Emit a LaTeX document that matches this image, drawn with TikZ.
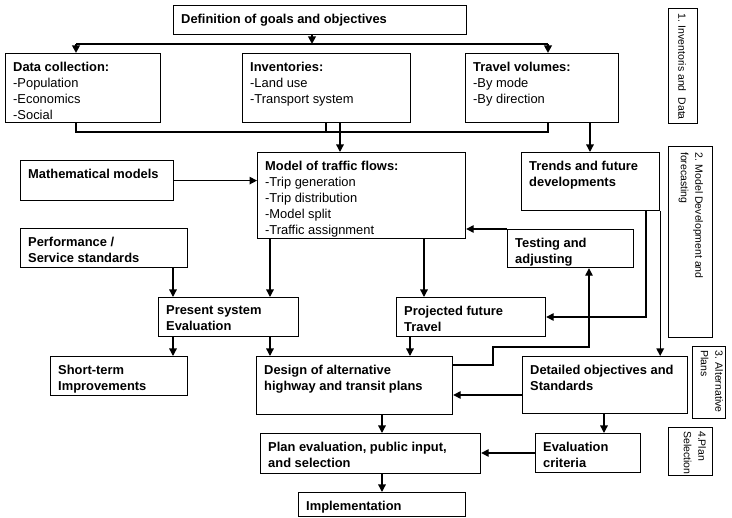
\documentclass[tikz,border=0pt]{standalone}
\usepackage{fontspec}
\setmainfont{Liberation Sans}
\usetikzlibrary{arrows.meta,calc}

% text placed in the top-left corner of a box
\newcommand{\inbox}[3][txt]{\node[#1] (#2-t) at ($(#2.north west)+(8,8.5)$) {#3};}
% rotated caption in a side box (reads top to bottom)
\newcommand{\sidecap}[4]{\node[side] (#1-t) at ($(#1.north east)+(#2,#3)$) {#4};}

\begin{document}
\begin{tikzpicture}[x=1pt,y=-1pt,
  box/.style={draw, line width=1.2pt, inner sep=0pt, anchor=north west},
  txt/.style={anchor=north west, inner sep=0pt, align=left,
    font=\fontsize{12.9}{16}\selectfont},
  txtb/.style={txt, font=\fontsize{12.9}{16}\selectfont\bfseries},
  side/.style={anchor=north west, inner sep=0pt, align=left, rotate=-90,
    font=\fontsize{10.5}{14.5}\selectfont},
  link/.style={line width=1.3pt, -{Triangle[length=7.5pt,width=7.5pt]}},
  wire/.style={line width=1.3pt},
  bus/.style={line width=2.2pt},
  bustip/.style={bus, -{Triangle[length=7.5pt,width=7.5pt]}},
]
\useasboundingbox (0,0) rectangle (732,518);

% ---- boxes ----
\node[box, minimum width=293, minimum height=29] (def)    at (173,5)   {};
\node[box, minimum width=155, minimum height=69] (dc)     at (5,53)    {};
\node[box, minimum width=168, minimum height=69] (inv)    at (242,53)  {};
\node[box, minimum width=153, minimum height=69] (tv)     at (465,53)  {};
\node[box, minimum width=29,  minimum height=115] (lab1)  at (668,8)   {};
\node[box, minimum width=153, minimum height=40] (math)   at (20,160)  {};
\node[box, minimum width=208, minimum height=86] (model)  at (257,152) {};
\node[box, minimum width=138, minimum height=58] (trends) at (521,152) {};
\node[box, minimum width=44,  minimum height=191] (lab2)  at (668,146) {};
\node[box, minimum width=167, minimum height=39] (perf)   at (20,228)  {};
\node[box, minimum width=126, minimum height=38] (test)   at (507,229) {};
\node[box, minimum width=140, minimum height=39] (pres)   at (158,297) {};
\node[box, minimum width=149, minimum height=39] (proj)   at (396,297) {};
\node[box, minimum width=137, minimum height=39] (short)  at (50,356)  {};
\node[box, minimum width=196, minimum height=58] (design) at (256,356) {};
\node[box, minimum width=165, minimum height=57] (detail) at (522,356) {};
\node[box, minimum width=33,  minimum height=72] (lab3)   at (692,346) {};
\node[box, minimum width=220, minimum height=40] (plan)   at (260,433) {};
\node[box, minimum width=105, minimum height=39] (evalc)  at (535,433) {};
\node[box, minimum width=44,  minimum height=48] (lab4)   at (668,427) {};
\node[box, minimum width=167, minimum height=24] (impl)   at (298,492) {};

% ---- box texts ----
\inbox[txtb]{def}{Definition of goals and objectives}
\inbox{dc}{\textbf{Data collection:}\\-Population\\-Economics\\-Social}
\inbox{inv}{\textbf{Inventories:}\\-Land use\\-Transport system}
\inbox{tv}{\textbf{Travel volumes:}\\-By mode\\-By direction}
\inbox[txtb]{math}{Mathematical models}
\inbox{model}{\textbf{Model of traffic flows:}\\-Trip generation\\-Trip distribution\\-Model split\\-Traffic assignment}
\inbox[txtb]{trends}{Trends and future\\developments}
\inbox[txtb]{perf}{Performance /\\Service standards}
\inbox[txtb]{test}{Testing and\\adjusting}
\inbox[txtb]{pres}{Present system\\Evaluation}
\inbox[txtb]{proj}{Projected future\\Travel}
\inbox[txtb]{short}{Short-term\\Improvements}
\inbox[txtb]{design}{Design of alternative\\highway and transit plans}
\inbox[txtb]{detail}{Detailed objectives and\\Standards}
\inbox[txtb]{plan}{Plan evaluation, public input,\\and selection}
\inbox[txtb]{evalc}{Evaluation\\criteria}
\inbox[txtb]{impl}{Implementation}

% ---- stage captions ----
\sidecap{lab1}{-12}{5}{1. Inventoris and\ \ Data}
\sidecap{lab2}{-10}{6}{2. Model Development and\\forecasting}
\sidecap{lab3}{-3}{4}{3. Alternative\\Plans}
\sidecap{lab4}{-7}{4}{4.Plan\\Selection}

% ---- routing points ----
\coordinate (busL) at (76,44);
\coordinate (busM) at (312,44);
\coordinate (busR) at (548,44);
\coordinate (colL) at (76,132);
\coordinate (colI) at (326,132);
\coordinate (colR) at (548,132);
\coordinate (xInv) at (340,0);
\coordinate (xTv)  at (590,0);
\coordinate (xA)   at (173,0);
\coordinate (xB)   at (270,0);
\coordinate (xC)   at (424,0);
\coordinate (xD)   at (410,0);
\coordinate (xE)   at (382,0);
\coordinate (xF)   at (604,0);
\coordinate (trA)  at (646,317);
\coordinate (fbA)  at (493,365);
\coordinate (fbB)  at (493,347);
\coordinate (fbC)  at (589,347);
\coordinate (yDet) at (0,395);
\coordinate (yEv)  at (0,453);

% ---- distribution from the goals ----
\draw[bus] (busL) -- (busR);
\draw[bustip] (def.south -| busM) -- (busM);
\draw[bustip] (busL) -- (busL |- dc.north);
\draw[bustip] (busR) -- (busR |- tv.north);

% ---- collection into the model ----
\draw[bus] (colL |- dc.south) -- (colL) -- (colR) -- (colR |- tv.south);
\draw[bus] (colI |- inv.south) -- (colI);
\draw[link] (xInv |- inv.south) -- (xInv |- model.north);
\draw[link] (xTv |- tv.south) -- (xTv |- trends.north);

% ---- modelling stage ----
\draw[link] (math.east) -- (math.east -| model.west);
\draw[link] (test.north west) -- (test.north west -| model.east);
\draw[link] (xB |- model.south) -- (xB |- pres.north);
\draw[link] (xC |- model.south) -- (xC |- proj.north);
\draw[link] (xA |- perf.south) -- (xA |- pres.north);
\draw[link] (trA |- trends.south) -- (trA) -- (trA -| proj.east);
\draw[link] (trends.south east) -- (trends.south east |- detail.north);

% ---- alternatives ----
\draw[link] (design.east |- fbA) -- (fbA) -- (fbB) -- (fbC) -- (fbC |- test.south);
\draw[link] (xA |- pres.south) -- (xA |- short.north);
\draw[link] (xB |- pres.south) -- (xB |- design.north);
\draw[link] (xD |- proj.south) -- (xD |- design.north);
\draw[link] (detail.west |- yDet) -- (design.east |- yDet);

% ---- selection ----
\draw[link] (xE |- design.south) -- (xE |- plan.north);
\draw[link] (xF |- detail.south) -- (xF |- evalc.north);
\draw[link] (evalc.west |- yEv) -- (plan.east |- yEv);
\draw[link] (xE |- plan.south) -- (xE |- impl.north);
\end{tikzpicture}
\end{document}
